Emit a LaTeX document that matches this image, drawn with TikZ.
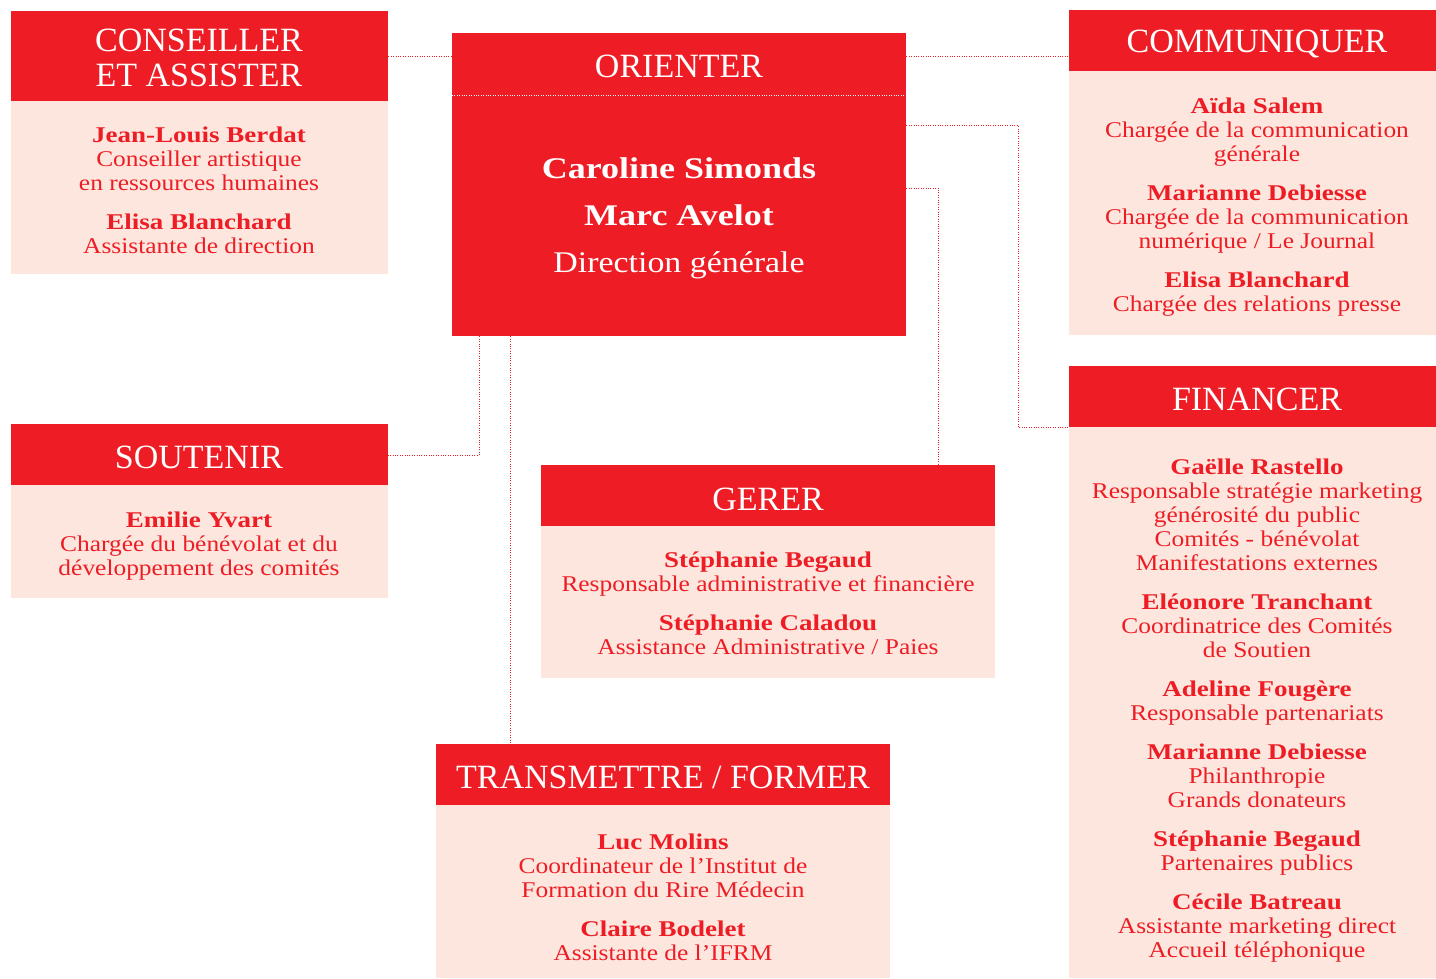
\documentclass[tikz,border=0pt]{standalone}
\usepackage{fontspec}
\setmainfont[FakeStretch=1.13]{Liberation Serif}
\newfontfamily\bnom[FakeStretch=1.2]{Liberation Serif Bold}
\newfontfamily\hdfont{Liberation Serif}
\newcommand{\nom}[1]{{\bnom #1}}
\usetikzlibrary{calc}
\definecolor{rouge}{HTML}{EE1D25}
\definecolor{rose}{HTML}{FCE6DD}
\begin{document}
\begin{tikzpicture}[x=1pt,y=-1pt,
  boxr/.style={fill=rouge, draw=none, inner sep=0pt, anchor=north west},
  boxp/.style={fill=rose, draw=none, inner sep=0pt, anchor=north west},
  hd/.style={text=white, align=center, inner sep=0pt, font=\hdfont\fontsize{34}{35}\selectfont},
  txt/.style={text=rouge, align=center, inner sep=0pt, font=\fontsize{22.5}{24}\selectfont},
  conn/.style={draw=rouge, line width=1pt, dash pattern=on 1pt off 1.4pt}]
\useasboundingbox (0,0) rectangle (1436,978);
% boxes
\node[boxr, minimum width=377pt, minimum height=90pt] (conH) at (11,11) {};
\node[boxp, minimum width=377pt, minimum height=173pt] (conB) at (11,101) {};
\node[boxr, minimum width=454pt, minimum height=303pt] (orient) at (452,33) {};
\node[boxr, minimum width=367pt, minimum height=61pt] (comH) at (1069,10) {};
\node[boxp, minimum width=367pt, minimum height=264pt] (comB) at (1069,71) {};
\node[boxr, minimum width=377pt, minimum height=61pt] (souH) at (11,424) {};
\node[boxp, minimum width=377pt, minimum height=113pt] (souB) at (11,485) {};
\node[boxr, minimum width=454pt, minimum height=61pt] (gerH) at (541,465) {};
\node[boxp, minimum width=454pt, minimum height=152pt] (gerB) at (541,526) {};
\node[boxr, minimum width=367pt, minimum height=61pt] (finH) at (1069,366) {};
\node[boxp, minimum width=367pt, minimum height=551pt] (finB) at (1069,427) {};
\node[boxr, minimum width=454pt, minimum height=61pt] (traH) at (436,744) {};
\node[boxp, minimum width=454pt, minimum height=173pt] (traB) at (436,805) {};
% white dotted separator in ORIENTER
\coordinate (sepL) at ($(orient.north west)+(0,62)$);
\draw[draw=white, line width=1pt, dash pattern=on 1pt off 1.4pt] (sepL) -- (sepL -| orient.east);
% headers
\node[hd] (tCon) at (199,58) {CONSEILLER\\ET ASSISTER};
\node[hd] (tOri) at (679,66) {ORIENTER};
\node[hd] (tCom) at (1257,44) {COMMUNIQUER};
\node[hd] (tSou) at (199,457) {SOUTENIR};
\node[hd] (tGer) at (768,499) {GERER};
\node[hd] (tFin) at (1257,399) {FINANCER};
\node[hd] (tTra) at (663,777) {TRANSMETTRE / FORMER};
% orienter body
\node[text=white, align=center, inner sep=0pt, font=\fontsize{30}{47}\selectfont] (oBody) at (679,218)
  {\nom{Caroline Simonds}\\\nom{Marc Avelot}\\Direction générale};
% bodies
\node[txt] (bCon) at (199,190) {\nom{Jean-Louis Berdat}\\Conseiller artistique\\en ressources humaines\\[15pt]\nom{Elisa Blanchard}\\Assistante de direction};
\node[txt] (bCom) at (1257,207) {\nom{Aïda Salem}\\Chargée de la communication\\générale\\[15pt]\nom{Marianne Debiesse}\\Chargée de la communication\\numérique / Le Journal\\[15pt]\nom{Elisa Blanchard}\\Chargée des relations presse};
\node[txt] (bSou) at (199,546) {\nom{Emilie Yvart}\\Chargée du bénévolat et du\\développement des comités};
\node[txt] (bGer) at (768,603.5) {\nom{Stéphanie Begaud}\\Responsable administrative et financière\\[15pt]\nom{Stéphanie Caladou}\\Assistance Administrative / Paies};
\node[txt] (bTra) at (663,897) {\nom{Luc Molins}\\Coordinateur de l’Institut de\\Formation du Rire Médecin\\[15pt]\nom{Claire Bodelet}\\Assistante de l’IFRM};
\node[txt] (bFin) at (1257,710.5) {\nom{Gaëlle Rastello}\\Responsable stratégie marketing\\générosité du public\\Comités - bénévolat\\Manifestations externes\\[15pt]\nom{Eléonore Tranchant}\\Coordinatrice des Comités\\de Soutien\\[15pt]\nom{Adeline Fougère}\\Responsable partenariats\\[15pt]\nom{Marianne Debiesse}\\Philanthropie\\Grands donateurs\\[15pt]\nom{Stéphanie Begaud}\\Partenaires publics\\[15pt]\nom{Cécile Batreau}\\Assistante marketing direct\\Accueil téléphonique};
% connectors
\draw[conn] (conH.east) -- (orient.west |- conH.east);
\draw[conn] (orient.east |- conH.east) -- (comH.west |- conH.east);
\coordinate (c1) at (1018,125);
\draw[conn] (orient.east |- c1) -- (c1) |- (finH.south west);
\coordinate (c3) at (938,188);
\draw[conn] (orient.east |- c3) -- (c3) -- (c3 |- gerH.north);
\coordinate (c4) at (479,455);
\draw[conn] (orient.south -| c4) -- (c4) -- (souH.east |- c4);
\coordinate (c5) at (510,500);
\draw[conn] (orient.south -| c5) -- (traH.north -| c5);
\end{tikzpicture}
\end{document}
